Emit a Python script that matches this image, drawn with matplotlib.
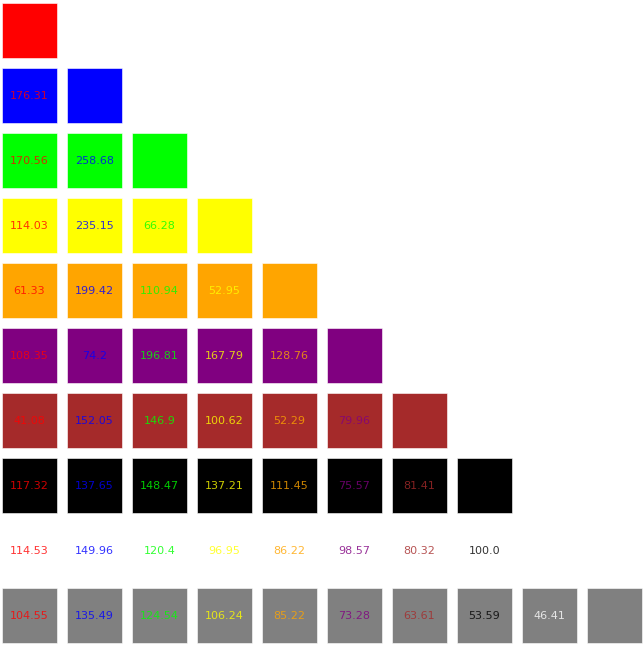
import matplotlib
matplotlib.use("Agg")
import matplotlib.pyplot as plt
from matplotlib.patches import Rectangle

colors = ["red", "blue", "lime", "yellow", "orange", "purple", "brown", "black", "white", "gray"]

row_values = [
    [],
    [176.31],
    [170.56, 258.68],
    [114.03, 235.15, 66.28],
    [61.33, 199.42, 110.94, 52.95],
    [108.35, 74.2, 196.81, 167.79, 128.76],
    [41.08, 152.05, 146.9, 100.62, 52.29, 79.96],
    [117.32, 137.65, 148.47, 137.21, 111.45, 75.57, 81.41],
    [114.53, 149.96, 120.4, 96.95, 86.22, 98.57, 80.32, 100.0],
    [104.55, 135.49, 124.54, 106.24, 85.22, 73.28, 63.61, 53.59, 46.41],
]

fig = plt.figure(figsize=(6.43, 6.46), dpi=100)
ax = fig.add_axes([0, 0, 1, 1])
ax.axis("off")
size = 0.846
for r, vals in enumerate(row_values):
    for c in range(r + 1):
        ax.add_patch(Rectangle((c, r), size, size, facecolor=colors[r],
                               edgecolor="white", linewidth=0.4))
        if c < r:
            ax.text(c + size / 2, r + size / 2 + 0.012, str(vals[c]), color=colors[c],
                    ha="center", va="center", fontsize=8, alpha=0.8)

ax.set_xlim(-2 / 65, (643 - 2) / 65)
ax.set_ylim((646 - 3) / 65, -3 / 65)
fig.savefig("out.png", dpi=100)
